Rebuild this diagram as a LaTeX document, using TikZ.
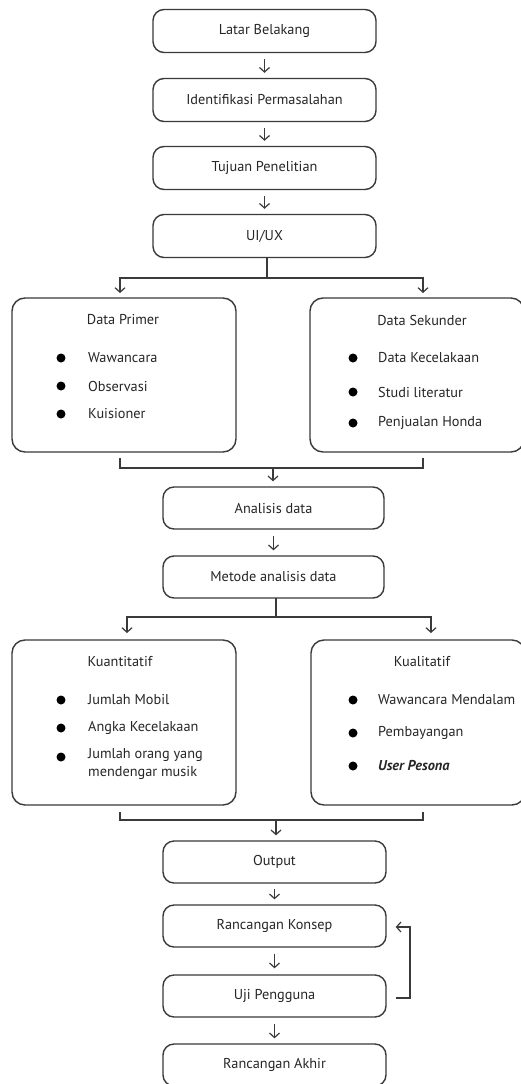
\documentclass[tikz,border=0pt]{standalone}
\usepackage{fontspec}
\setmainfont{PT Sans}
\usetikzlibrary{arrows.meta,calc}
\definecolor{ln}{HTML}{3A3A3A}
\tikzset{
  box/.style={draw=ln, line width=1.4pt, rounded corners=11pt, minimum width=223pt, minimum height=43pt, inner sep=0pt, font=\fontsize{14.3}{16}\selectfont, text=black!85},
  bigbox/.style={draw=ln, line width=1.4pt, rounded corners=13pt, inner sep=0pt},
  conn/.style={draw=ln, line width=1.4pt},
  arr/.style={conn, -{Straight Barb[length=4.5pt,width=10pt,line width=1.2pt]}},
  txt/.style={font=\fontsize{14.3}{18.5}\selectfont, anchor=west, inner sep=0pt, align=left, text=black!85},
  ttl/.style={font=\fontsize{14.3}{16}\selectfont, inner sep=0pt, text=black!85},
  dot/.style={fill=black, circle, inner sep=0pt, minimum size=9pt}
}
\begin{document}
\begin{tikzpicture}[x=1pt,y=-1pt]
\useasboundingbox (0,0) rectangle (521,1084);
\clip (0,0) rectangle (521,1084);
\fill[white] (0,0) rectangle (521,1084);
% top chain
\node[box] (lb) at (264.5,31) {Latar Belakang};
\node[box] (ip) at (264.5,100) {Identifikasi Permasalahan};
\node[box] (tp) at (264.5,168) {Tujuan Penelitian};
\node[box] (ui) at (264.5,236) {UI/UX};
\draw[arr, shorten <=6pt, shorten >=5pt] (lb) -- (ip);
\draw[arr, shorten <=6pt, shorten >=5pt] (ip) -- (tp);
\draw[arr, shorten <=6pt, shorten >=5pt] (tp) -- (ui);
% data boxes
\node[bigbox, minimum width=224pt, minimum height=154pt] (dp) at (124,375) {};
\node[bigbox, minimum width=214pt, minimum height=154pt] (ds) at (417,375) {};
\node[ttl] (dpt) at (123,320) {Data Primer};
\node[dot] (dpb1) at (61,358) {};
\node[txt] (dpi1) at (88,358) {Wawancara};
\node[dot] (dpb2) at (61,386) {};
\node[txt] (dpi2) at (88,386) {Observasi};
\node[dot] (dpb3) at (61,414) {};
\node[txt] (dpi3) at (88,414) {Kuisioner};
\node[ttl] (dst) at (422,320) {Data Sekunder};
\node[dot] (dsb1) at (353,358) {};
\node[txt] (dsi1) at (378,358) {Data Kecelakaan};
\node[dot] (dsb2) at (353,392) {};
\node[txt] (dsi2) at (378,392) {Studi literatur};
\node[dot] (dsb3) at (353,423) {};
\node[txt] (dsi3) at (378,423) {Penjualan Honda};
% split from UI/UX
\coordinate (s1) at (267,258);
\coordinate (s1m) at (267,278);
\coordinate (s1l) at (120,278);
\coordinate (s1r) at (423,278);
\coordinate (s1la) at (120,298);
\coordinate (s1ra) at (423,298);
\draw[conn] (s1) -- (s1m);
\draw[arr, shorten >=5pt] (s1m) -- (s1l) -- (s1la);
\draw[arr, shorten >=5pt] (s1m) -- (s1r) -- (s1ra);
% join
\coordinate (j1l) at (120,458);
\coordinate (j1r) at (423,458);
\coordinate (j1m) at (273,468);
\node[box, minimum width=221pt, minimum height=42pt] (ad) at (273.5,508) {Analisis data};
\node[box, minimum width=221pt, minimum height=42pt] (md) at (273.5,577) {Metode analisis data};
\draw[conn] (j1l) |- (j1m) -| (j1r);
\draw[arr, shorten >=5pt] (j1m) -- (j1m |- ad.north);
\draw[arr, shorten <=6pt, shorten >=5pt] (ad) -- (md);
% quantitative / qualitative
\node[bigbox, minimum width=224pt, minimum height=165pt] (kn) at (124,722.5) {};
\node[bigbox, minimum width=214pt, minimum height=165pt] (kl) at (418,722.5) {};
\node[ttl] (knt) at (120,662) {Kuantitatif};
\node[dot] (knb1) at (61,700) {};
\node[txt] (kni1) at (88,700) {Jumlah Mobil};
\node[dot] (knb2) at (61,728) {};
\node[txt] (kni2) at (88,728) {Angka Kecelakaan};
\node[dot] (knb3) at (61,757) {};
\node[txt, anchor=north west] (kni3) at (88,748) {Jumlah orang yang\\mendengar musik};
\node[ttl] (klt) at (422,662) {Kualitatif};
\node[dot] (klb1) at (353,700) {};
\node[txt] (kli1) at (378,700) {Wawancara Mendalam};
\node[dot] (klb2) at (353,733) {};
\node[txt] (kli2) at (378,733) {Pembayangan};
\node[dot] (klb3) at (353,766) {};
\node[txt] (kli3) at (378,766) {\textbf{\textit{User Pesona}}};
% split from Metode
\coordinate (s2) at (276,598);
\coordinate (s2m) at (276,617);
\coordinate (s2l) at (127,617);
\coordinate (s2r) at (431,617);
\coordinate (s2la) at (127,639);
\coordinate (s2ra) at (431,639);
\draw[conn] (s2) -- (s2m);
\draw[arr, shorten >=6pt] (s2m) -- (s2l) -- (s2la);
\draw[arr, shorten >=6pt] (s2m) -- (s2r) -- (s2ra);
% join 2
\coordinate (j2l) at (120,812);
\coordinate (j2r) at (423,812);
\coordinate (j2m) at (276,820);
\node[box, minimum width=223pt, minimum height=42pt] (out) at (274.5,862) {Output};
\node[box, minimum width=223pt, minimum height=42pt] (rk) at (274.5,926) {Rancangan Konsep};
\node[box, minimum width=223pt, minimum height=42pt] (up) at (274.5,996) {Uji Pengguna};
\node[box, minimum width=223pt, minimum height=42pt] (ra) at (274.5,1065) {Rancangan Akhir};
\draw[conn] (j2l) |- (j2m) -| (j2r);
\draw[arr, shorten >=5pt] (j2m) -- (j2m |- out.north);
\draw[arr, shorten <=5pt, shorten >=5pt] (out) -- (rk);
\draw[arr, shorten <=6pt, shorten >=6pt] (rk) -- (up);
\draw[arr, shorten <=6pt, shorten >=5pt] (up) -- (ra);
% feedback loop
\coordinate (fb1) at (410,998);
\coordinate (fb2) at (410,927);
\draw[arr, shorten <=9pt, shorten >=9pt] (up.east |- fb1) -- (fb1) -- (fb2) -- (rk.east |- fb2);
\end{tikzpicture}
\end{document}
